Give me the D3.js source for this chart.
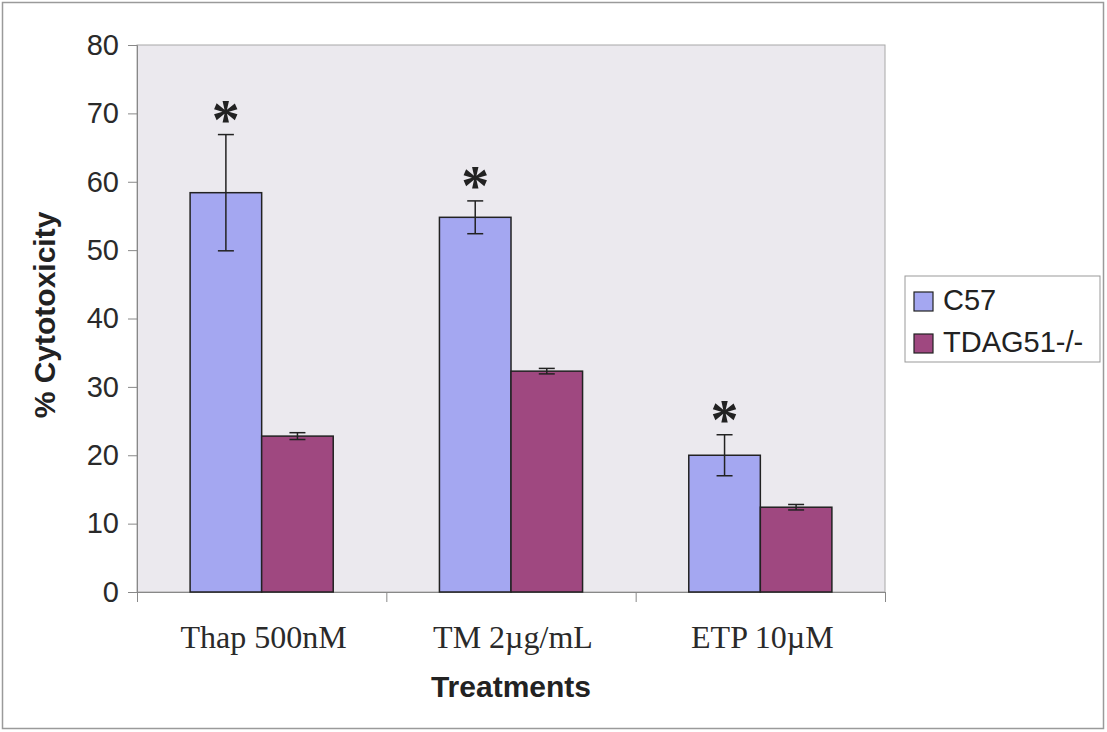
<!DOCTYPE html>
<html><head><meta charset="utf-8">
<script src="https://cdn.jsdelivr.net/npm/d3@7/dist/d3.min.js"></script>
<style>body{margin:0;background:#fff}svg{display:block}</style>
</head><body>
<svg id="c" width="1107" height="732"></svg>
<script>
const categories = ["Thap 500nM", "TM 2\u00b5g/mL", "ETP 10\u00b5M"];
const seriesNames = ["C57", "TDAG51-/-"];
const c57 = [58.4, 54.8, 20.0];
const c57Err = [8.5, 2.4, 3.0];
const tdag = [22.8, 32.3, 12.4];
const tdagErr = [0.5, 0.4, 0.4];
const significant = [true, true, true];
const yTicks = [0, 10, 20, 30, 40, 50, 60, 70, 80];
const colors = ["#a4a7f1", "#9f4880"];

const svg = d3.select("#c");
const L = 137, R = 885, T = 45, B = 592;

svg.append("rect").attr("x", 2.5).attr("y", 2.5).attr("width", 1101).attr("height", 726)
  .attr("fill", "#fff").attr("stroke", "#9a9a9a").attr("stroke-width", 1.5);

const x0 = d3.scaleBand().domain(categories).range([L, R]).paddingInner(0.426).paddingOuter(0.213);
const x1 = d3.scaleBand().domain(seriesNames).range([0, x0.bandwidth()]);
const y = d3.scaleLinear().domain([0, 80]).range([B, T]);

svg.append("rect").attr("x", L).attr("y", T).attr("width", R - L).attr("height", B - T)
  .attr("fill", "#ebe9ee").attr("stroke", "#a8a8a8").attr("stroke-width", 1);

// y axis
const yAxis = svg.append("g").attr("transform", `translate(${L},0)`)
  .call(d3.axisLeft(y).tickValues(yTicks).tickSize(9).tickPadding(9));
yAxis.select(".domain").attr("stroke", "#888");
yAxis.selectAll(".tick line").attr("stroke", "#888");
yAxis.selectAll("text").attr("font-family", "Liberation Sans, Arial, sans-serif")
  .attr("font-size", 29).attr("fill", "#2a2a2a");

// x axis
const xb = d3.scaleLinear().domain([0, categories.length]).range([L, R]);
const xAxis = svg.append("g").attr("transform", `translate(0,${B})`)
  .call(d3.axisBottom(xb).tickValues(d3.range(categories.length + 1)).tickSize(10).tickFormat(""));
xAxis.select(".domain").attr("stroke", "#888");
xAxis.selectAll(".tick line").attr("stroke", "#888");

svg.append("g").selectAll("text").data(categories).join("text")
  .attr("x", d => x0(d) + x0.bandwidth() / 2 + 2).attr("y", 648)
  .attr("text-anchor", "middle")
  .attr("font-family", "Liberation Serif, Times New Roman, serif").attr("font-size", 32)
  .attr("fill", "#2a2a2a").text(d => d);

const rows = categories.map((c, i) => ({ c, i, vals: [
  { s: seriesNames[0], v: c57[i], e: c57Err[i], k: 0 },
  { s: seriesNames[1], v: tdag[i], e: tdagErr[i], k: 1 }] }));

const g = svg.append("g").selectAll("g").data(rows).join("g")
  .attr("transform", d => `translate(${x0(d.c)},0)`);
g.selectAll("rect").data(d => d.vals).join("rect")
  .attr("x", d => x1(d.s)).attr("width", x1.bandwidth())
  .attr("y", d => y(d.v)).attr("height", d => y(0) - y(d.v))
  .attr("fill", d => colors[d.k]).attr("stroke", "#222").attr("stroke-width", 1.5);

const eb = g.selectAll("g.err").data(d => d.vals).join("g").attr("class", "err")
  .attr("stroke", "#222").attr("stroke-width", 1.5);
eb.append("line").attr("x1", d => x1(d.s) + x1.bandwidth() / 2).attr("x2", d => x1(d.s) + x1.bandwidth() / 2)
  .attr("y1", d => y(d.v + d.e)).attr("y2", d => y(d.v - d.e));
eb.append("line").attr("x1", d => x1(d.s) + x1.bandwidth() / 2 - 8).attr("x2", d => x1(d.s) + x1.bandwidth() / 2 + 8)
  .attr("y1", d => y(d.v + d.e)).attr("y2", d => y(d.v + d.e));
eb.append("line").attr("x1", d => x1(d.s) + x1.bandwidth() / 2 - 8).attr("x2", d => x1(d.s) + x1.bandwidth() / 2 + 8)
  .attr("y1", d => y(d.v - d.e)).attr("y2", d => y(d.v - d.e));

g.filter(d => significant[d.i]).append("text")
  .attr("x", x1(seriesNames[0]) + x1.bandwidth() / 2)
  .attr("y", d => y(c57[d.i] + c57Err[d.i]) + 4)
  .attr("text-anchor", "middle")
  .attr("font-family", "Liberation Serif, Times New Roman, serif").attr("font-weight", "bold").attr("font-size", 56)
  .attr("fill", "#222").text("*");

// axis titles
svg.append("text").attr("x", (L + R) / 2).attr("y", 697)
  .attr("text-anchor", "middle")
  .attr("font-family", "Liberation Sans, Arial, sans-serif").attr("font-weight", "bold").attr("font-size", 30)
  .attr("fill", "#222").text("Treatments");
svg.append("text").attr("transform", `translate(55,315) rotate(-90)`)
  .attr("text-anchor", "middle")
  .attr("font-family", "Liberation Sans, Arial, sans-serif").attr("font-weight", "bold").attr("font-size", 30)
  .attr("fill", "#222").text("% Cytotoxicity");

// legend
const lg = svg.append("g");
lg.append("rect").attr("x", 905).attr("y", 276).attr("width", 195).attr("height", 86)
  .attr("fill", "#fff").attr("stroke", "#999").attr("stroke-width", 1);
const li = lg.selectAll("g").data(seriesNames).join("g")
  .attr("transform", (d, i) => `translate(914,${292 + i * 42})`);
li.append("rect").attr("width", 19).attr("height", 19).attr("fill", (d, i) => colors[i])
  .attr("stroke", "#222").attr("stroke-width", 1.2);
li.append("text").attr("x", 29).attr("y", 10).attr("dominant-baseline", "middle")
  .attr("font-family", "Liberation Sans, Arial, sans-serif").attr("font-size", 29)
  .attr("fill", "#222").text(d => d);
</script>
</body></html>
